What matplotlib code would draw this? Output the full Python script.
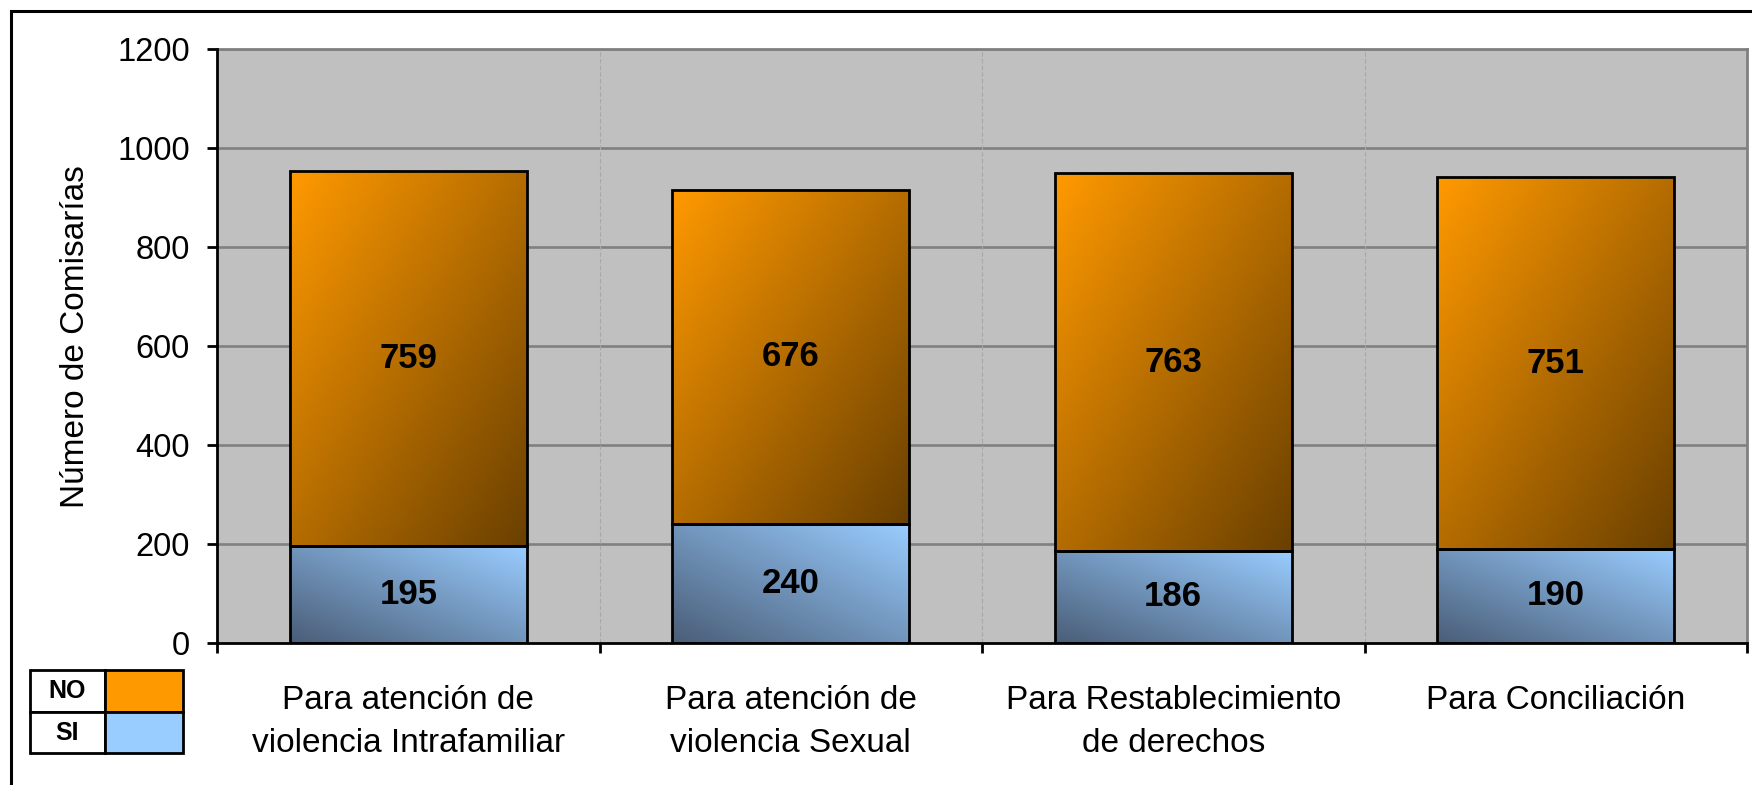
import numpy as np
import matplotlib
matplotlib.use('Agg')
import matplotlib.pyplot as plt
from matplotlib.patches import Rectangle
from matplotlib.transforms import Bbox, TransformedBbox
from matplotlib.colors import to_rgb

# data
categories = ['Para atención de\nviolencia Intrafamiliar',
              'Para atención de\nviolencia Sexual',
              'Para Restablecimiento\nde derechos',
              'Para Conciliación']
si_values = [195, 240, 186, 190]
no_values = [759, 676, 763, 751]
yticks = [0, 200, 400, 600, 800, 1000, 1200]

W, H = 1752, 785
plt.rcParams['font.family'] = ['Liberation Sans', 'DejaVu Sans']


def fx(px):
    return px / W


def fy(py):
    return 1 - py / H


def gradient(light, dark, nx=60, ny=60, kind='no'):
    u = np.linspace(0, 1, nx)[None, :]
    v = np.linspace(1, 0, ny)[:, None]   # row 0 is the top
    if kind == 'no':
        t = (u + (1 - v)) / 2            # light top-left, dark bottom-right
    else:
        t = ((1 - u) + (1 - v)) / 2      # light top-right, dark bottom-left
    a = np.array(to_rgb(light))
    b = np.array(to_rgb(dark))
    return a[None, None, :] * (1 - t[..., None]) + b[None, None, :] * t[..., None]


fig = plt.figure(figsize=(W / 100, H / 100), dpi=100)
fig.patch.set_facecolor('white')

ax = fig.add_axes([fx(217), fy(643), fx(1747) - fx(217), fy(49) - fy(643)])
ax.set_facecolor('#C0C0C0')

x = np.arange(len(categories))
width = 0.62

# horizontal grid + faint dashed category separators
for yv in yticks[1:]:
    ax.axhline(yv, color='#808080', lw=1.9, zorder=1)
for xv in x[:-1] + 0.5:
    ax.axvline(xv, color='#A8A8A8', lw=0.8, ls=(0, (4, 2)), zorder=1)

si_bars = ax.bar(x, si_values, width, facecolor='none', edgecolor='black',
                 linewidth=2, zorder=4)
no_bars = ax.bar(x, no_values, width, bottom=si_values, facecolor='none',
                 edgecolor='black', linewidth=2, zorder=4)

for p in si_bars:
    img = gradient('#99CCFF', '#4A5E78', kind='si')
    im = ax.imshow(img, extent=(p.get_x(), p.get_x() + p.get_width(),
                                p.get_y(), p.get_y() + p.get_height()),
                   aspect='auto', zorder=3, interpolation='bilinear')
    im.set_clip_path(p)
for p in no_bars:
    img = gradient('#FF9900', '#6A4000', kind='no')
    im = ax.imshow(img, extent=(p.get_x(), p.get_x() + p.get_width(),
                                p.get_y(), p.get_y() + p.get_height()),
                   aspect='auto', zorder=3, interpolation='bilinear')
    im.set_clip_path(p)

# value labels
for i in range(len(categories)):
    ax.text(x[i], si_values[i] / 2, str(si_values[i]), ha='center', va='center',
            fontsize=25, fontweight='bold', zorder=5)
    ax.text(x[i], si_values[i] + no_values[i] / 2, str(no_values[i]),
            ha='center', va='center', fontsize=25, fontweight='bold', zorder=5)

ax.set_xlim(-0.5, len(categories) - 0.5)
ax.set_ylim(0, 1200)
ax.set_yticks(yticks)
ax.tick_params(axis='y', length=7.5, width=2, pad=12, labelsize=23.5, direction='out')

ax.set_xticks(x)
ax.set_xticklabels(categories, fontsize=24, linespacing=1.5)
ax.set_xticks(np.arange(len(categories) + 1) - 0.5, minor=True)
ax.tick_params(axis='x', which='major', length=0, pad=30)
ax.tick_params(axis='x', which='minor', length=7, width=2, direction='out')

for side in ['top', 'right']:
    ax.spines[side].set_color('#808080')
    ax.spines[side].set_linewidth(2)
for side in ['left', 'bottom']:
    ax.spines[side].set_color('black')
    ax.spines[side].set_linewidth(2)
ax.spines['left'].set_zorder(6)
ax.spines['bottom'].set_zorder(6)

# y label, cut off at the top like in the source
yl = fig.text(fx(76), fy(508), 'Número de Comisarías', rotation=90,
              ha='center', va='bottom', fontsize=24)
yl.set_clip_box(TransformedBbox(Bbox([[0, fy(508) - 0.03], [fx(200), fy(166)]]),
                                fig.transFigure))
yl.set_clip_on(True)

# outer frame (right and bottom edges fall outside the picture)
fig.patches.append(Rectangle((fx(11), -0.2), 1.5, fy(11) + 0.2,
                             transform=fig.transFigure, fill=False,
                             edgecolor='black', linewidth=2.2))

# legend table
rows = [('NO', '#FF9900'), ('SI', '#99CCFF')]
x0, x1, x2 = 30, 105, 183
edges = [670, 712, 753]
for k, (lab, col) in enumerate(rows):
    r_top, r_bot = edges[k], edges[k + 1]
    fig.patches.append(Rectangle((fx(x0), fy(r_bot)), fx(x1) - fx(x0), fy(r_top) - fy(r_bot),
                                 transform=fig.transFigure, facecolor='white',
                                 edgecolor='black', linewidth=2))
    fig.patches.append(Rectangle((fx(x1), fy(r_bot)), fx(x2) - fx(x1), fy(r_top) - fy(r_bot),
                                 transform=fig.transFigure, facecolor=col,
                                 edgecolor='black', linewidth=2))
    fig.text(fx((x0 + x1) / 2), fy((r_top + r_bot) / 2), lab, ha='center', va='center',
             fontsize=18, fontweight='bold')

fig.savefig('out.png', dpi=100)
